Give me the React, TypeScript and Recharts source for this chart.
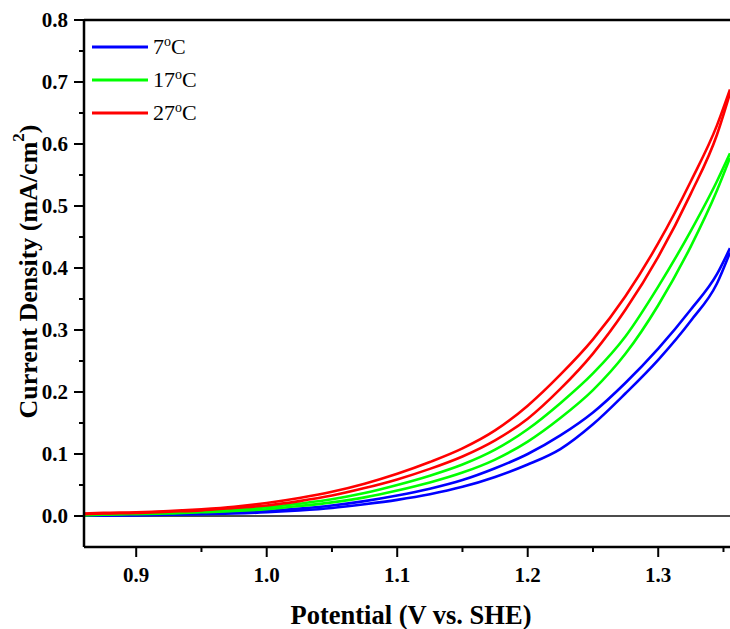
import { LineChart, Line, XAxis, YAxis, ReferenceLine } from 'recharts';

const potential = [
  0.86, 0.875, 0.9, 0.925, 0.95, 0.975, 1.0, 1.025, 1.05, 1.075, 1.1, 1.125, 1.15, 1.175, 1.2, 1.225,
  1.25, 1.275, 1.3, 1.325, 1.345, 1.355,
];

// each temperature: forward / reverse scan branch
const t7Up = [
  0.001, 0.001, 0.002, 0.003, 0.004, 0.006, 0.008, 0.012, 0.017, 0.024, 0.033, 0.044, 0.058, 0.077, 0.1, 0.13,
  0.167, 0.215, 0.27, 0.333, 0.39, 0.432,
];
const t7Down = [
  0.0005, 0.0007, 0.001, 0.002, 0.003, 0.004, 0.006, 0.009, 0.013, 0.019, 0.026, 0.035, 0.047, 0.063, 0.083, 0.108,
  0.148, 0.198, 0.252, 0.315, 0.375, 0.425,
];
const t17Up = [
  0.002, 0.003, 0.004, 0.006, 0.008, 0.011, 0.014, 0.02, 0.027, 0.037, 0.05, 0.065, 0.083, 0.107, 0.14, 0.182,
  0.23, 0.29, 0.37, 0.46, 0.54, 0.585,
];
const t17Down = [
  0.001, 0.002, 0.003, 0.004, 0.006, 0.008, 0.011, 0.016, 0.022, 0.03, 0.041, 0.054, 0.07, 0.091, 0.12, 0.158,
  0.203, 0.262, 0.34, 0.435, 0.525, 0.578,
];
const t27Up = [
  0.004, 0.005, 0.006, 0.008, 0.011, 0.015, 0.021, 0.029, 0.039, 0.052, 0.068, 0.087, 0.109, 0.138, 0.178, 0.228,
  0.285, 0.355, 0.44, 0.54, 0.63, 0.688,
];
const t27Down = [
  0.003, 0.004, 0.005, 0.007, 0.009, 0.013, 0.017, 0.024, 0.033, 0.045, 0.059, 0.076, 0.096, 0.122, 0.157, 0.205,
  0.262, 0.333, 0.418, 0.52, 0.615, 0.682,
];

const temps = ['7', '17', '27'];
const colors = ['#0000FF', '#00FF00', '#FF0000'];

const xTicks = [0.9, 0.95, 1.0, 1.05, 1.1, 1.15, 1.2, 1.25, 1.3, 1.35];
const yTicks = [-0.05, 0, 0.05, 0.1, 0.15, 0.2, 0.25, 0.3, 0.35, 0.4, 0.45, 0.5, 0.55, 0.6, 0.65, 0.7, 0.75, 0.8];

const data = potential.map((v, i) => ({
  v,
  t7a: t7Up[i],
  t7b: t7Down[i],
  t17a: t17Up[i],
  t17b: t17Down[i],
  t27a: t27Up[i],
  t27b: t27Down[i],
}));

const FONT = 'Liberation Serif, Times New Roman, serif';

const isMajor = (v: number) => Math.abs(Math.round(v * 10) - v * 10) < 1e-6;

const YTick = ({ x, y, payload }: any) => {
  const major = isMajor(payload.value);
  if (payload.value < -0.01) return null;
  return (
    <g>
      <line x1={x} x2={x - (major ? 10 : 5)} y1={y} y2={y} stroke="#000" strokeWidth={2} />
      {major && (
        <text x={x - 16} y={y} dy={7} textAnchor="end" fontFamily={FONT} fontWeight={700} fontSize={21} fill="#000">
          {payload.value.toFixed(1)}
        </text>
      )}
    </g>
  );
};

const XTick = ({ x, y, payload }: any) => {
  const major = isMajor(payload.value);
  return (
    <g>
      <line x1={x} x2={x} y1={y} y2={y + (major ? 10 : 5)} stroke="#000" strokeWidth={2} />
      {major && (
        <text x={x} y={y} dy={35} textAnchor="middle" fontFamily={FONT} fontWeight={700} fontSize={21} fill="#000">
          {payload.value.toFixed(1)}
        </text>
      )}
    </g>
  );
};

const YTitle = ({ viewBox }: any) => {
  const cx = viewBox.x + 20;
  const cy = viewBox.y + viewBox.height / 2 - 12;
  return (
    <text
      x={cx}
      y={cy}
      transform={`rotate(-90 ${cx} ${cy})`}
      textAnchor="middle"
      dominantBaseline="central"
      fontFamily={FONT}
      fontWeight={700}
      fontSize={26}
      fill="#000"
    >
      Current Density (mA/cm
      <tspan dy={-10} fontSize={17}>2</tspan>
      <tspan dy={10}>)</tspan>
    </text>
  );
};

const XTitle = ({ viewBox }: any) => (
  <text
    x={viewBox.x + viewBox.width / 2 + 4}
    y={viewBox.y + 77}
    textAnchor="middle"
    fontFamily={FONT}
    fontWeight={700}
    fontSize={26.5}
    fill="#000"
  >
    Potential (V vs. SHE)
  </text>
);

const LegendBox = () => (
  <div style={{ position: 'absolute', left: 84, top: 22, fontFamily: FONT, fontSize: 22, color: '#000' }}>
    {temps.map((t, i) => (
      <div key={t} style={{ display: 'flex', alignItems: 'center', height: 33 }}>
        <svg width={56} height={6} style={{ marginRight: 5 }}>
          <line x1={0} x2={56} y1={3} y2={3} stroke={colors[i]} strokeWidth={3} />
        </svg>
        <span>
          {t}
          <sup style={{ fontSize: 14, verticalAlign: 'top', lineHeight: 1.1 }}>o</sup>C
        </span>
      </div>
    ))}
  </div>
);

export default function App() {
  return (
    <div style={{ position: 'absolute', left: 8, top: 8, width: 722, height: 621 }}>
      <LineChart
        width={722}
        height={621}
        data={data}
        margin={{ top: 12, right: 0, left: 0, bottom: 0 }}
      >
        <XAxis
          dataKey="v"
          type="number"
          domain={[0.86, 1.355]}
          ticks={xTicks}
          interval={0}
          tick={<XTick />}
          tickSize={0}
          tickMargin={0}
          tickLine={false}
          axisLine={{ stroke: '#000', strokeWidth: 2.5 }}
          height={82}
          label={<XTitle />}
          allowDataOverflow
        />
        <YAxis
          type="number"
          domain={[-0.05, 0.8]}
          ticks={yTicks}
          interval={0}
          tick={<YTick />}
          tickSize={0}
          tickMargin={0}
          tickLine={false}
          axisLine={{ stroke: '#000', strokeWidth: 2.5 }}
          width={76}
          label={<YTitle />}
          allowDataOverflow
        />
        <ReferenceLine y={0} stroke="#111" strokeWidth={1.5} />
        <ReferenceLine y={0.8} stroke="#000" strokeWidth={2.5} />
        <Line dataKey="t7a" stroke={colors[0]} strokeWidth={2.6} dot={false} type="monotone" isAnimationActive={false} />
        <Line dataKey="t7b" stroke={colors[0]} strokeWidth={2.6} dot={false} type="monotone" isAnimationActive={false} />
        <Line dataKey="t17a" stroke={colors[1]} strokeWidth={2.6} dot={false} type="monotone" isAnimationActive={false} />
        <Line dataKey="t17b" stroke={colors[1]} strokeWidth={2.6} dot={false} type="monotone" isAnimationActive={false} />
        <Line dataKey="t27a" stroke={colors[2]} strokeWidth={2.6} dot={false} type="monotone" isAnimationActive={false} />
        <Line dataKey="t27b" stroke={colors[2]} strokeWidth={2.6} dot={false} type="monotone" isAnimationActive={false} />
      </LineChart>
      <LegendBox />
    </div>
  );
}
